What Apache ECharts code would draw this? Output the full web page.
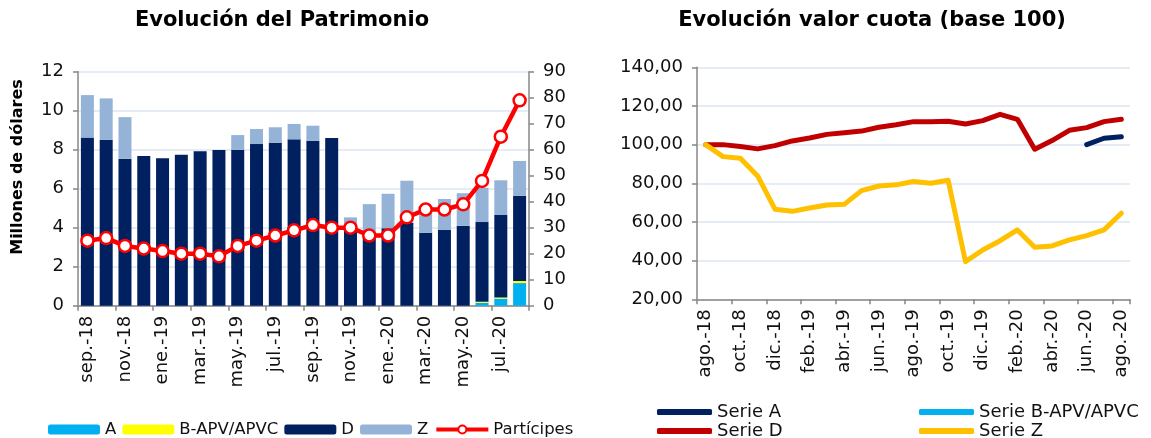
<!DOCTYPE html>
<html><head><meta charset="utf-8">
<script src="https://cdn.jsdelivr.net/npm/echarts@6/dist/echarts.min.js"></script>
<style>html,body{margin:0;padding:0;background:#fff}#c{width:1151px;height:438px}</style>
</head><body><div id="c"></div>
<script>
const FONT = 'DejaVu Sans';
// ---- Left chart: Evolución del Patrimonio ----
const patrimonioMonths = ['sep.-18','oct.-18','nov.-18','dic.-18','ene.-19','feb.-19','mar.-19','abr.-19','may.-19','jun.-19','jul.-19','ago.-19','sep.-19','oct.-19','nov.-19','dic.-19','ene.-20','feb.-20','mar.-20','abr.-20','may.-20','jun.-20','jul.-20','ago.-20'];
const patA = [0,0,0,0,0,0,0,0,0,0,0,0,0,0,0,0,0,0,0,0,0,0.15,0.36,1.16];
const patB = [0,0,0,0,0,0,0,0,0,0,0,0,0,0,0,0,0,0,0,0,0,0.05,0.06,0.11];
const patD = [8.62,8.50,7.54,7.68,7.56,7.74,7.92,7.98,8.00,8.29,8.36,8.53,8.46,8.60,3.85,3.60,3.97,4.26,3.74,3.88,4.10,4.09,4.23,4.36];
const patZ = [2.18,2.13,2.13,0,0,0,0,0,0.75,0.77,0.79,0.79,0.77,0,0.68,1.61,1.77,2.15,1.31,1.59,1.67,1.76,1.78,1.79];
const participes = [25,26,23,22,21,20,20,19,23,25,27,29,31,30,30,27,27,34,37,37,39,48,65,79];
// ---- Right chart: Evolución valor cuota (base 100) ----
const cuotaMonths = ['ago.-18','sep.-18','oct.-18','nov.-18','dic.-18','ene.-19','feb.-19','mar.-19','abr.-19','may.-19','jun.-19','jul.-19','ago.-19','sep.-19','oct.-19','nov.-19','dic.-19','ene.-20','feb.-20','mar.-20','abr.-20','may.-20','jun.-20','jul.-20','ago.-20'];
const cuotaA = [null,null,null,null,null,null,null,null,null,null,null,null,null,null,null,null,null,null,null,null,null,null,100,103.3,104.1];
const cuotaB = [null,null,null,null,null,null,null,null,null,null,null,null,null,null,null,null,null,null,null,null,null,null,null,null,null];
const cuotaD = [100,100,99,97.8,99.5,101.9,103.4,105.3,106.2,107,109,110.3,111.9,111.9,112.1,110.7,112.4,115.7,113.1,97.6,102.1,107.4,108.8,111.9,113.1];
const cuotaZ = [100,93.8,93,83.8,66.6,65.5,67.2,68.8,69.1,76.2,78.6,79.2,80.9,80,81.6,39.5,45.5,50.3,55.9,46.9,47.6,50.7,52.9,55.9,64.5];

const AXIS = '#878787', GRIDC = '#DCE6F2', TXT = '#111';
const chart = echarts.init(document.getElementById('c'), null, {renderer:'canvas'});
const tickLabel = {fontFamily: FONT, fontSize: 18, color: TXT};
function catAxis(idx, data) {
  return {type:'category', gridIndex: idx, data: data, boundaryGap: true,
    axisLine:{show:true, lineStyle:{color:AXIS, width:1.5}},
    axisTick:{show:true, interval:1, length:5, lineStyle:{color:AXIS, width:1.5}},
    axisLabel:Object.assign({interval:1, rotate:90, margin:10}, tickLabel),
    splitLine:{show:false}};
}
const legendRight = (name, left, top) => ({
  data:[name], left:left, top:top, orient:'horizontal', itemWidth:55, itemHeight:6,
  icon:'roundRect', itemGap:0,
  textStyle:{fontFamily:FONT, fontSize:18, color:TXT, padding:[0,0,0,0]}
});
chart.setOption({
  animation:false,
  backgroundColor:'#fff',
  graphic:[
    {type:'text', x:282, y:21, style:{text:'Evolución del Patrimonio', font:'bold 21px "DejaVu Sans"', fill:'#000', textAlign:'center', textVerticalAlign:'middle'}},
    {type:'text', x:872, y:21, style:{text:'Evolución valor cuota (base 100)', font:'bold 21px "DejaVu Sans"', fill:'#000', textAlign:'center', textVerticalAlign:'middle'}},
    {type:'text', x:18, y:167, rotation:Math.PI/2, style:{text:'Millones de dólares', font:'bold 16px "DejaVu Sans"', fill:'#000', textAlign:'center', textVerticalAlign:'middle'}}
  ],
  legend:[
    {data:['A','B-APV/APVC','D','Z','Partícipes'], left:43, top:416, itemWidth:52, itemHeight:10, itemGap:6,
     lineStyle:{width:4},
     textStyle:{fontFamily:FONT, fontSize:16.5, color:TXT}},
    legendRight('Serie A', 652, 398),
    legendRight('Serie B-APV/APVC', 914, 398),
    legendRight('Serie D', 652, 417),
    legendRight('Serie Z', 914, 417)
  ],
  grid:[
    {left:78, right:622, top:71.7, height:234},
    {left:697, right:21, top:67.3, height:232}
  ],
  xAxis:[catAxis(0, patrimonioMonths), catAxis(1, cuotaMonths)],
  yAxis:[
    {type:'value', gridIndex:0, min:0, max:12, interval:2, position:'left',
     axisLine:{show:true, lineStyle:{color:AXIS, width:1.5}},
     axisTick:{show:true, length:5, lineStyle:{color:AXIS, width:1.5}},
     axisLabel:Object.assign({margin:14}, tickLabel),
     splitLine:{show:true, lineStyle:{color:GRIDC, width:1.5}}},
    {type:'value', gridIndex:0, min:0, max:90, interval:10, position:'right',
     axisLine:{show:true, lineStyle:{color:AXIS, width:1.5}},
     axisTick:{show:true, length:5, lineStyle:{color:AXIS, width:1.5}},
     axisLabel:Object.assign({margin:14}, tickLabel),
     splitLine:{show:false}},
    {type:'value', gridIndex:1, min:20, max:140, interval:20, position:'left',
     axisLine:{show:true, lineStyle:{color:AXIS, width:1.5}},
     axisTick:{show:true, length:5, lineStyle:{color:AXIS, width:1.5}},
     axisLabel:Object.assign({margin:14, formatter:v => v.toFixed(2).replace('.', ',')}, tickLabel),
     splitLine:{show:true, lineStyle:{color:GRIDC, width:1.5}}}
  ],
  series:[
    {name:'A', type:'bar', stack:'pat', xAxisIndex:0, yAxisIndex:0, data:patA, barWidth:13, itemStyle:{color:'#00B0F0'}},
    {name:'B-APV/APVC', type:'bar', stack:'pat', xAxisIndex:0, yAxisIndex:0, data:patB, barWidth:13, itemStyle:{color:'#FFFF00'}},
    {name:'D', type:'bar', stack:'pat', xAxisIndex:0, yAxisIndex:0, data:patD, barWidth:13, itemStyle:{color:'#002060'}},
    {name:'Z', type:'bar', stack:'pat', xAxisIndex:0, yAxisIndex:0, data:patZ, barWidth:13, itemStyle:{color:'#95B3D7'}},
    {name:'Partícipes', type:'line', xAxisIndex:0, yAxisIndex:1, data:participes, z:5,
     color:'#FF0000', symbol:'circle', symbolSize:12, showSymbol:true,
     lineStyle:{color:'#FF0000', width:4.5},
     itemStyle:{color:'#FFFFFF', borderColor:'#FF0000', borderWidth:2.5}},
    {name:'Serie A', type:'line', xAxisIndex:1, yAxisIndex:2, data:cuotaA, showSymbol:false, color:'#002060',
     lineStyle:{color:'#002060', width:5, cap:'round', join:'round'}},
    {name:'Serie B-APV/APVC', type:'line', xAxisIndex:1, yAxisIndex:2, data:cuotaB, showSymbol:false, color:'#00B0F0',
     lineStyle:{color:'#00B0F0', width:5, cap:'round', join:'round'}},
    {name:'Serie D', type:'line', xAxisIndex:1, yAxisIndex:2, data:cuotaD, showSymbol:false, color:'#C00000',
     lineStyle:{color:'#C00000', width:5, cap:'round', join:'round'}},
    {name:'Serie Z', type:'line', xAxisIndex:1, yAxisIndex:2, data:cuotaZ, showSymbol:false, color:'#FFC000',
     lineStyle:{color:'#FFC000', width:5, cap:'round', join:'round'}}
  ]
});
</script></body></html>
